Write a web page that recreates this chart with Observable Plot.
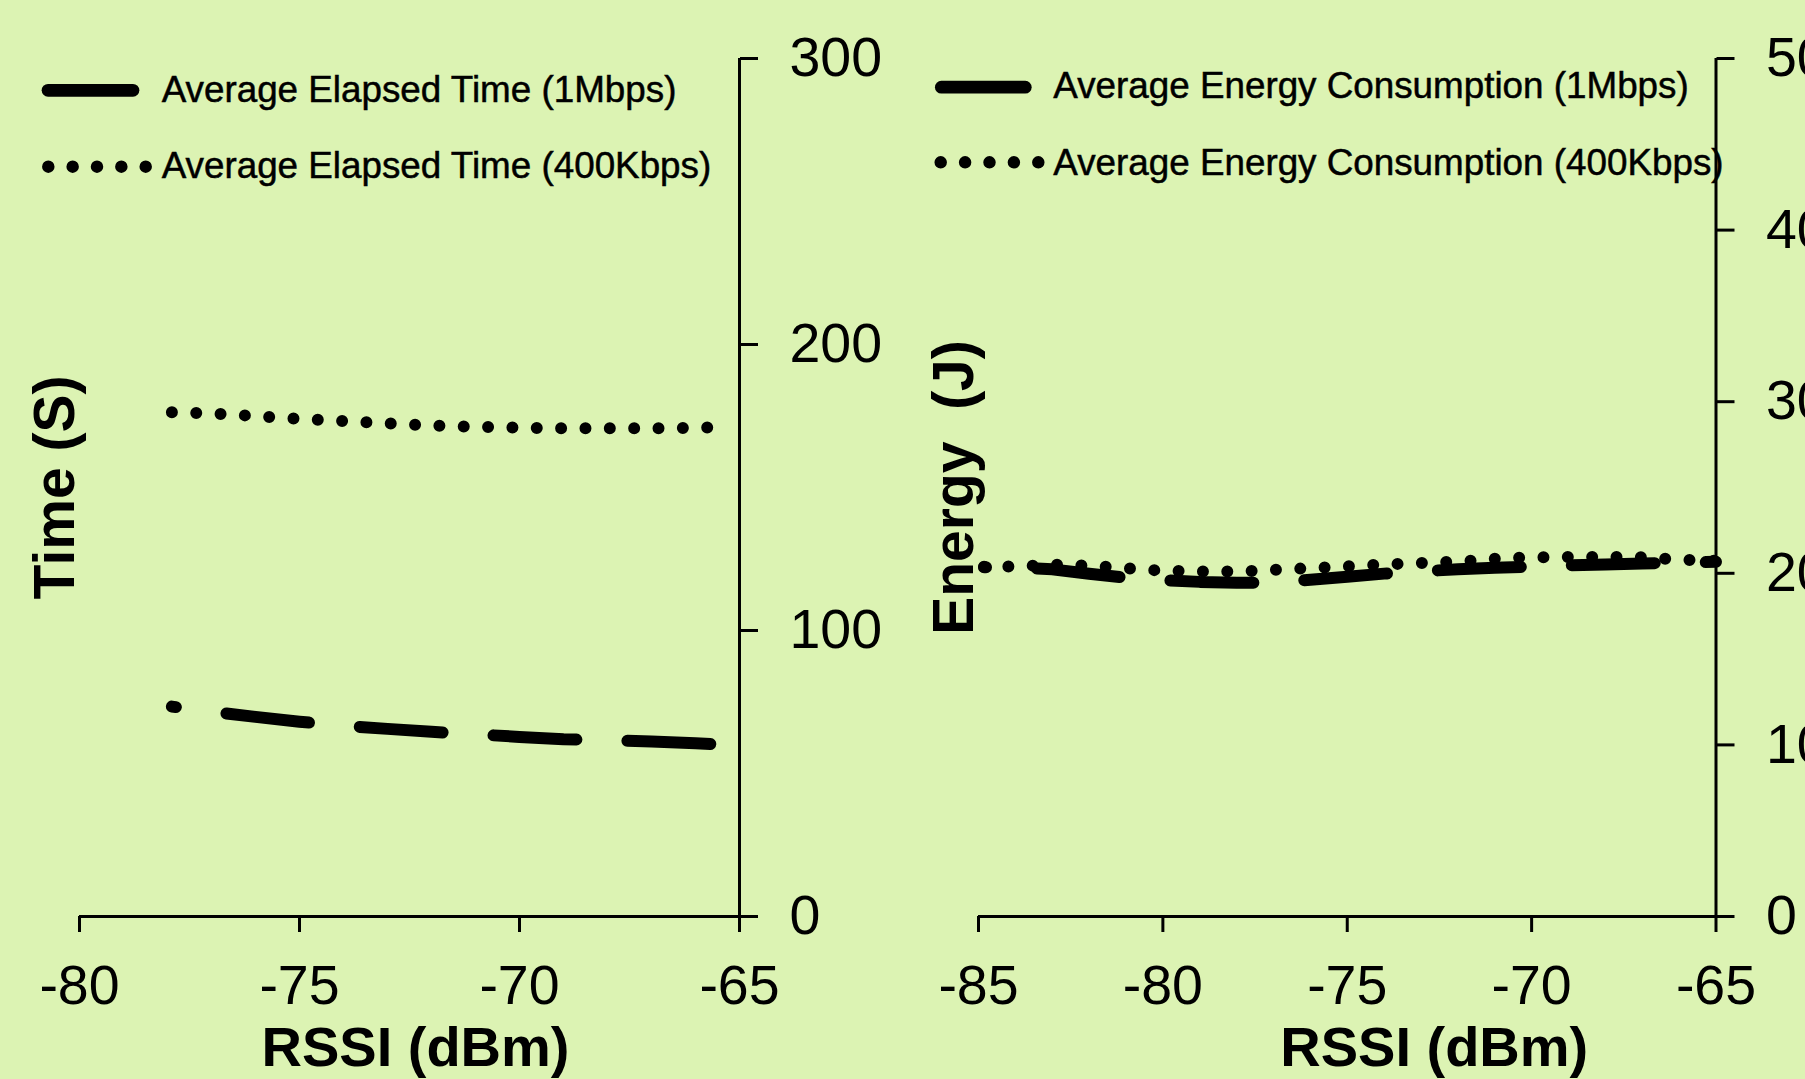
<!DOCTYPE html>
<html><head><meta charset="utf-8">
<script src="https://cdn.jsdelivr.net/npm/d3@7"></script>
<script src="https://cdn.jsdelivr.net/npm/@observablehq/plot@0.6"></script>
<style>
html,body{margin:0;padding:0;background:#dcf3b3;overflow:hidden;width:1805px;height:1079px;}
#wrap{position:relative;width:1805px;height:1079px;font-family:"Liberation Sans",Arial,sans-serif;}
#left{position:absolute;left:0;top:0;}
#right{position:absolute;left:900px;top:0;}
#legend{position:absolute;left:0;top:0;pointer-events:none;}
</style></head>
<body><div id="wrap"><div id="left"></div><div id="right"></div><svg id="legend" width="1805" height="1079"></svg></div>
<script>
// ---- data ----
const rssiTime = [-77.9, -77, -76, -75, -74, -73, -72, -71, -70, -69, -68, -67, -66, -65.65];
const time1Mbps = [73.4, 71.6, 69.8, 68.1, 66.7, 65.6, 64.6, 63.7, 62.8, 62.0, 61.6, 61.2, 60.6, 60.3];
const time400Kbps = [176.3, 175.9, 175.0, 174.0, 173.2, 172.4, 171.7, 171.2, 170.9, 170.7, 170.7, 170.7, 170.9, 171.0];

const rssiEnergy = [-84.85, -84, -83, -82, -81, -80, -79, -78, -77, -76, -75, -74, -73, -72, -71, -70, -69, -68, -67, -66, -65];
const energy1Mbps = [20.35, 20.35, 20.23, 19.97, 19.74, 19.6, 19.5, 19.45, 19.45, 19.62, 19.8, 19.98, 20.12, 20.23, 20.32, 20.39, 20.47, 20.52, 20.57, 20.62, 20.67];
const energy400Kbps = [20.38, 20.4, 20.5, 20.45, 20.3, 20.15, 20.1, 20.1, 20.2, 20.3, 20.4, 20.52, 20.6, 20.68, 20.85, 20.93, 20.95, 20.96, 20.93, 20.8, 20.72];

const timeTicksX = [-80, -75, -70, -65];
const timeTicksY = [0, 100, 200, 300];
const energyTicksX = [-85, -80, -75, -70, -65];
const energyTicksY = [0, 10, 20, 30, 40, 50];

const xTitle = "RSSI (dBm)";
const timeTitle = "Time (S)";
const energyTitle = "Energy\u00a0\u00a0(J)";
const legendTime = ["Average Elapsed Time (1Mbps)", "Average Elapsed Time (400Kbps)"];
const legendEnergy = ["Average Energy Consumption (1Mbps)", "Average Energy Consumption (400Kbps)"];

const FONT = "'Liberation Sans', Arial, sans-serif";

function chart(o) {
  const d1 = o.rssi.map((x, i) => ({x, y: o.s1[i]}));
  const d2 = o.rssi.map((x, i) => ({x, y: o.s2[i]}));
  return Plot.plot({
    width: o.width, height: 1079,
    marginTop: 58, marginBottom: 163, marginLeft: o.marginLeft, marginRight: o.marginRight,
    style: {background: "transparent", fontFamily: FONT, maxWidth: "none", overflow: "visible", color: "black"},
    x: {domain: o.xDomain},
    y: {domain: o.yDomain},
    marks: [
      Plot.ruleY([o.yDomain[0]], {stroke: "black", strokeWidth: 3}),
      Plot.ruleX([o.xDomain[1]], {stroke: "black", strokeWidth: 3}),
      Plot.axisX({ticks: o.xTicks, tickSize: 16, tickPadding: 32, fontSize: 55.5, tickFormat: d => String(d), label: null, stroke: "black", strokeWidth: 3, fill: "black"}),
      Plot.axisY({anchor: "right", ticks: o.yTicks, tickSize: 18, tickPadding: 32, fontSize: 55.5, tickFormat: d => String(d), label: null, stroke: "black", strokeWidth: 3, fill: "black"}),
      Plot.line(d1, {x: "x", y: "y", stroke: "black", strokeWidth: 12, strokeLinecap: "round", strokeLinejoin: "round", strokeDasharray: "83,51", strokeDashoffset: o.dashOffset}),
      Plot.line(d2, {x: "x", y: "y", stroke: "black", strokeWidth: 12, strokeLinecap: "round", strokeDasharray: "0,24.35"}),
      Plot.text([o.xTitle], {text: d => d, frameAnchor: "bottom", textAnchor: "middle", dy: 132, dx: o.xTitleDx, fontSize: 56, fontWeight: "bold", lineAnchor: "middle", fill: "black"}),
      Plot.text([o.yTitle], {text: d => d, frameAnchor: "left", textAnchor: "middle", rotate: -90, dx: o.yTitleDx, fontSize: 57, fontWeight: "bold", lineAnchor: "middle", fill: "black"})
    ]
  });
}

document.getElementById("left").append(chart({
  width: 900, marginLeft: 79, marginRight: 161,
  xDomain: [-80, -65], yDomain: [0, 300], xTicks: timeTicksX, yTicks: timeTicksY,
  rssi: rssiTime, s1: time1Mbps, s2: time400Kbps, dashOffset: 79,
  xTitle, yTitle: timeTitle, xTitleDx: 6, yTitleDx: -23.5
}));

document.getElementById("right").append(chart({
  width: 1000, marginLeft: 78, marginRight: 184.5,
  xDomain: [-85, -65], yDomain: [0, 50], xTicks: energyTicksX, yTicks: energyTicksY,
  rssi: rssiEnergy, s1: energy1Mbps, s2: energy400Kbps, dashOffset: 81,
  xTitle, yTitle: energyTitle, xTitleDx: 87, yTitleDx: -24
}));

// ---- legends (inside the plot areas, top-left) ----
const lg = d3.select("#legend");
function legend(labels, lineX1, lineX2, dotX1, dotX2, textX, rowY, baseY) {
  lg.append("line").attr("x1", lineX1).attr("x2", lineX2).attr("y1", rowY[0]).attr("y2", rowY[0])
    .attr("stroke", "black").attr("stroke-width", 12.7).attr("stroke-linecap", "round");
  lg.append("line").attr("x1", dotX1).attr("x2", dotX2 + 1).attr("y1", rowY[1]).attr("y2", rowY[1])
    .attr("stroke", "black").attr("stroke-width", 12.5).attr("stroke-linecap", "round")
    .attr("stroke-dasharray", `0,${(dotX2 - dotX1) / 4}`);
  labels.forEach((t, i) => {
    lg.append("text").attr("x", textX).attr("y", baseY[i]).attr("font-family", FONT)
      .attr("font-size", 36.8).attr("fill", "black").attr("stroke", "black").attr("stroke-width", 0.5).text(t);
  });
}
legend(legendTime, 48, 133, 48.3, 145.7, 161.7, [90.3, 166.7], [101.7, 178.3]);
legend(legendEnergy, 941.3, 1025.3, 940.7, 1038.3, 1053.3, [87.2, 162.3], [98.3, 175]);
</script>
</body></html>
